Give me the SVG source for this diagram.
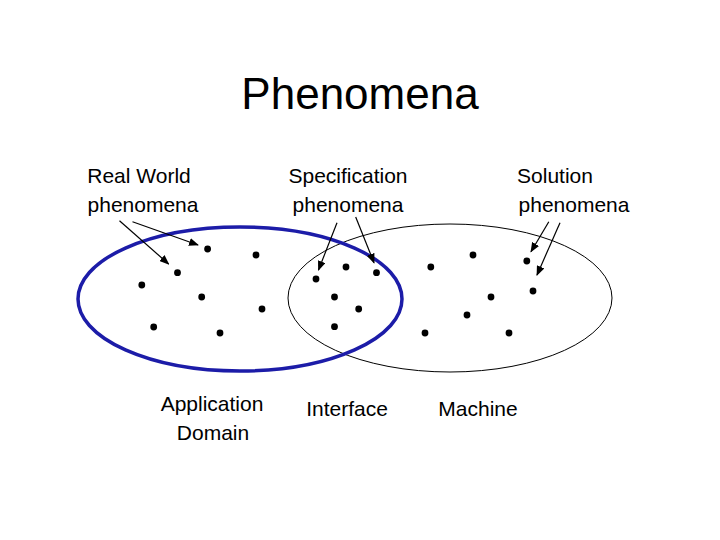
<svg xmlns="http://www.w3.org/2000/svg" width="720" height="540" viewBox="0 0 720 540">
<style>
text{font-family:"Liberation Sans",Arial,sans-serif;fill:#000;text-anchor:middle}
.l{font-size:21px}
.d{fill:#000}
.a{stroke:#000;stroke-width:1.2;fill:none;marker-end:url(#ah)}
</style>
<defs><marker id="ah" markerWidth="10" markerHeight="8" refX="9" refY="4" orient="auto" markerUnits="userSpaceOnUse"><path d="M0,0 L10,4 L0,8 Z" fill="#000"/></marker></defs>
<rect width="720" height="540" fill="#fff"/>
<text x="360" y="109" style="font-size:44px">Phenomena</text>
<g id="ellipses">
<ellipse id="machine" cx="450" cy="298" rx="162" ry="74" fill="none" stroke="#000" stroke-width="1"/>
<ellipse id="domain" cx="240" cy="299" rx="162" ry="72" fill="none" stroke="#1c1ca8" stroke-width="3.5"/>
</g>
<g id="dots">
<circle class="d" cx="207.6" cy="249" r="3.4"/><circle class="d" cx="256" cy="255" r="3.4"/><circle class="d" cx="177.5" cy="272.7" r="3.4"/><circle class="d" cx="141.8" cy="285" r="3.4"/><circle class="d" cx="201.7" cy="297" r="3.4"/><circle class="d" cx="262" cy="309" r="3.4"/><circle class="d" cx="153.7" cy="327" r="3.4"/><circle class="d" cx="220" cy="333" r="3.4"/>
<circle class="d" cx="346" cy="267" r="3.4"/><circle class="d" cx="376.5" cy="272.7" r="3.4"/><circle class="d" cx="316" cy="279" r="3.4"/><circle class="d" cx="334.5" cy="297" r="3.4"/><circle class="d" cx="358.7" cy="309" r="3.4"/><circle class="d" cx="334.5" cy="326.7" r="3.4"/>
<circle class="d" cx="430.8" cy="267" r="3.4"/><circle class="d" cx="473" cy="255" r="3.4"/><circle class="d" cx="526.8" cy="261" r="3.4"/><circle class="d" cx="533" cy="291" r="3.4"/><circle class="d" cx="491" cy="297" r="3.4"/><circle class="d" cx="467" cy="315" r="3.4"/><circle class="d" cx="425" cy="333" r="3.4"/><circle class="d" cx="509" cy="333" r="3.4"/>
</g>
<g id="connectors">
<line class="a" x1="119.5" y1="220.7" x2="168.6" y2="264"/>
<line class="a" x1="132.5" y1="221.7" x2="198" y2="245"/>
<line class="a" x1="337" y1="222.7" x2="318.5" y2="270"/>
<line class="a" x1="355.7" y1="217" x2="374" y2="262.7"/>
<line class="a" x1="548.8" y1="221.7" x2="531" y2="251.7"/>
<line class="a" x1="560" y1="222.7" x2="537" y2="275"/>
</g>
<g id="real-world"><text class="l" x="139" y="183">Real World</text><text class="l" x="143" y="212">phenomena</text></g>
<g id="specification"><text class="l" x="348" y="183">Specification</text><text class="l" x="348" y="212">phenomena</text></g>
<g id="solution"><text class="l" x="555" y="183">Solution</text><text class="l" x="574" y="212">phenomena</text></g>
<g id="application-domain"><text class="l" x="212" y="411">Application</text><text class="l" x="213" y="440">Domain</text></g>
<g id="interface"><text class="l" x="347" y="416">Interface</text></g>
<g id="machine-label"><text class="l" x="478" y="416">Machine</text></g>
</svg>
